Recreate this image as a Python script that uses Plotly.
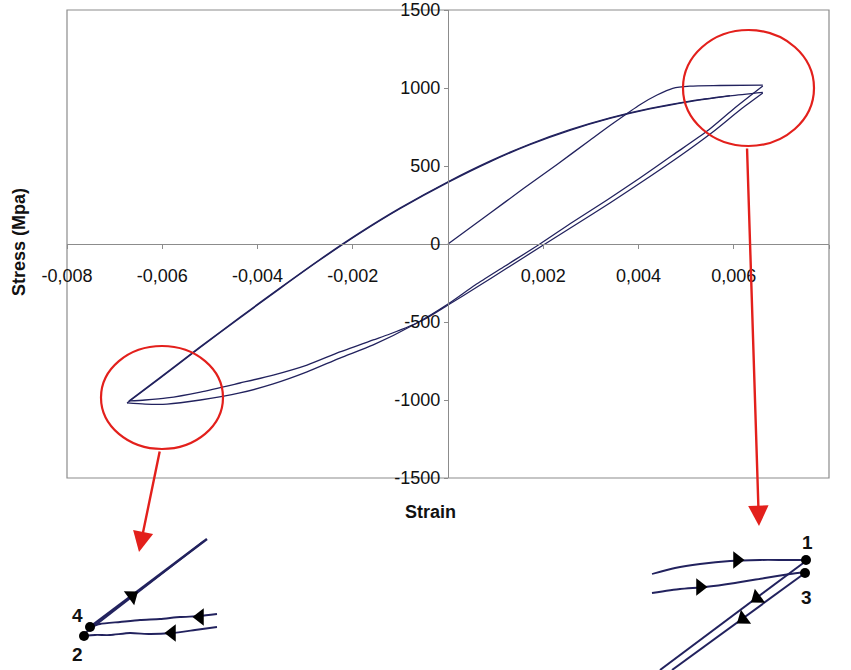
import math
import plotly.graph_objects as go

W, H = 851, 670

# ---------------- main hysteresis data (strain [-], stress [MPa]) ----------------
# 0 -> 1 : initial loading
strain_A = [0.0, 0.00088, 0.00157, 0.00229, 0.00298, 0.00346, 0.00403, 0.00439, 0.00472, 0.00508, 0.00571, 0.00661]
stress_A = [0, 197, 352, 510, 665, 772, 893, 955, 998, 1012, 1016, 1019]
# 1 -> 2 : unloading / reverse loading
strain_B = [0.00661, 0.00602, 0.00544, 0.00472, 0.00403, 0.00334, 0.00262, 0.00193, 0.00120, 0.00057, 0.0,
            -0.00069, -0.00157, -0.00227, -0.00296, -0.00367, -0.00437, -0.00520, -0.00590, -0.00636, -0.00674]
stress_B = [1013, 872, 724, 570, 423, 282, 141, 0, -141, -263, -385,
            -513, -647, -731, -820, -897, -955, -1000, -1026, -1026, -1019]
# 2 -> 3 : reloading
strain_C = [-0.00674, -0.00604, -0.00521, -0.00437, -0.00353, -0.00269, -0.00185, -0.00101, 0.0,
            0.00088, 0.00172, 0.00256, 0.00340, 0.00424, 0.00508, 0.00592, 0.00661]
stress_C = [-1019, -859, -665, -474, -286, -103, 69, 226, 395,
            527, 637, 729, 805, 866, 913, 949, 972]
# 3 -> 4 : second unloading
strain_D = [0.00661, 0.00613, 0.00556, 0.00487, 0.00413, 0.00340, 0.00267, 0.00197, 0.00124, 0.00061, 0.0,
            -0.00052, -0.00122, -0.00157, -0.00227, -0.00296, -0.00367, -0.00437, -0.00520, -0.00590, -0.00636, -0.00670]
stress_D = [968, 859, 718, 564, 410, 263, 122, -13, -154, -276, -391,
            -487, -577, -615, -692, -776, -840, -891, -949, -987, -1000, -1006]
# 4 -> : second reloading
strain_E = [-0.00670, -0.00604, -0.00521, -0.00437, -0.00353, -0.00269, -0.00185, -0.00101, 0.0,
            0.00088, 0.00172, 0.00256, 0.00340, 0.00424, 0.00508, 0.00592]
stress_E = [-1006, -855, -661, -470, -282, -99, 73, 230, 399,
            531, 641, 733, 809, 869, 916, 951]

x_tickvals = [-0.008, -0.006, -0.004, -0.002, 0.002, 0.004, 0.006, 0.008]
x_ticktext = ["-0,008", "-0,006", "-0,004", "-0,002", "0,002", "0,004", "0,006", "0,008"]
y_tickvals = [1500, 1000, 500, 0, -500, -1000, -1500]
y_ticktext = ["1500", "1000", "500", "0", "-500", "-1000", "-1500"]

# ---------------- sketch insets (drawn on an overlay axis in px units) ----------------
# lower-left detail (points 2 and 4)
inL_up4_x = [90, 207]
inL_up4_y = [627, 539]
inL_up2_x = [84, 204]
inL_up2_y = [634, 541]
inL_mid_x = [217, 200, 180, 160, 140, 120, 100, 90]
inL_mid_y = [614, 616, 617, 619, 620, 622, 624, 627]
inL_low_x = [217, 195, 172, 150, 130, 110, 95, 84]
inL_low_y = [627, 630, 633, 634, 633, 635, 635, 636]
# upper-right detail (points 1 and 3)
inR_top_x = [652, 675, 700, 730, 760, 785, 806]
inR_top_y = [574, 568, 564, 561, 560, 560, 560]
inR_sec_x = [652, 680, 705, 735, 765, 790, 805]
inR_sec_y = [593, 589, 587, 583, 578, 574, 572]
inR_dn1_x = [806, 660]
inR_dn1_y = [561, 670]
inR_dn3_x = [805, 672]
inR_dn3_y = [573, 670]

dots_x = [90, 84, 806, 805]
dots_y = [627, 636, 560, 573]
dot_labels = ["4", "2", "1", "3"]
label_x = [77, 77, 807, 806]
label_y = [615, 654, 542, 597]

arrow_x = [132, 200, 172, 737, 700, 757, 743]
arrow_y = [596, 617, 633, 560, 587, 598, 619]
arrow_dir = [(117, -88), (-1, 0), (-1, 0), (1, 0), (1, 0), (-146, 109), (-133, 97)]

LINE = "#22225e"
RED = "#e3201c"
AX = "#8c8c8c"

# plot box in pixels
PL, PR, PT, PB = 67, 829, 10, 478
xdom = [PL / W, PR / W]
ydom = [(H - PB) / H, (H - PT) / H]

fig = go.Figure()

for sx, sy in [(strain_A, stress_A), (strain_B, stress_B), (strain_C, stress_C),
               (strain_D, stress_D), (strain_E, stress_E)]:
    fig.add_trace(go.Scatter(x=sx, y=sy, mode="lines",
                             line=dict(color=LINE, width=1.3, shape="spline", smoothing=0.7),
                             xaxis="x", yaxis="y", hoverinfo="skip"))

for lx, ly, wd in [(inL_up4_x, inL_up4_y, 2.4), (inL_up2_x, inL_up2_y, 1.8),
                   (inL_mid_x, inL_mid_y, 1.8), (inL_low_x, inL_low_y, 1.8),
                   (inR_top_x, inR_top_y, 1.8), (inR_sec_x, inR_sec_y, 2.0),
                   (inR_dn1_x, inR_dn1_y, 2.0), (inR_dn3_x, inR_dn3_y, 2.0)]:
    fig.add_trace(go.Scatter(x=lx, y=ly, mode="lines",
                             line=dict(color=LINE, width=wd, shape="spline", smoothing=0.6),
                             xaxis="x2", yaxis="y2", hoverinfo="skip"))

angles = [math.degrees(math.atan2(dx, -dy)) for dx, dy in arrow_dir]
fig.add_trace(go.Scatter(x=arrow_x, y=arrow_y, mode="markers",
                         marker=dict(symbol="triangle-up", size=15, color="#000000", angle=angles,
                                     line=dict(width=0)),
                         xaxis="x2", yaxis="y2", hoverinfo="skip"))
fig.add_trace(go.Scatter(x=dots_x, y=dots_y, mode="markers",
                         marker=dict(symbol="circle", size=10, color="#000000"),
                         xaxis="x2", yaxis="y2", hoverinfo="skip"))

annotations = []
for t, lx, ly in zip(dot_labels, label_x, label_y):
    annotations.append(dict(x=lx, y=ly, xref="x2", yref="y2", text="<b>%s</b>" % t,
                            showarrow=False, font=dict(size=19, color="#111111")))
annotations.append(dict(x=430, y=512, xref="x2", yref="y2", text="<b>Strain</b>",
                        showarrow=False, font=dict(size=18, color="#111111")))
annotations.append(dict(x=19, y=242, xref="x2", yref="y2", text="<b>Stress (Mpa)</b>",
                        textangle=-90, showarrow=False, font=dict(size=18, color="#111111")))
# red pointer arrows
annotations.append(dict(x=759, y=526, xref="x2", yref="y2", ax=747, ay=147, axref="x2", ayref="y2",
                        text="", showarrow=True, arrowhead=2, arrowsize=1.7, arrowwidth=2.4,
                        arrowcolor=RED))
annotations.append(dict(x=139, y=552, xref="x2", yref="y2", ax=160, ay=450, axref="x2", ayref="y2",
                        text="", showarrow=True, arrowhead=2, arrowsize=1.7, arrowwidth=2.4,
                        arrowcolor=RED))

shapes = [
    dict(type="rect", xref="paper", yref="paper", x0=xdom[0], x1=xdom[1], y0=ydom[0], y1=ydom[1],
         line=dict(color=AX, width=1.2), layer="below"),
    dict(type="circle", xref="x2", yref="y2", x0=683, x1=814, y0=30, y1=146,
         line=dict(color=RED, width=2.2)),
    dict(type="circle", xref="x2", yref="y2", x0=101, x1=223, y0=346, y1=449,
         line=dict(color=RED, width=2.2)),
]

fig.update_layout(
    width=W, height=H,
    margin=dict(l=0, r=0, t=0, b=0, autoexpand=False),
    paper_bgcolor="white", plot_bgcolor="rgba(0,0,0,0)",
    showlegend=False,
    font=dict(family="Liberation Sans, Arial, sans-serif", size=18, color="#111111"),
    xaxis=dict(domain=xdom, range=[-0.008, 0.008], anchor="free",
               position=(ydom[0] + ydom[1]) / 2, automargin=False,
               showline=True, linecolor=AX, linewidth=1.2, showgrid=False, zeroline=False,
               ticks="outside", ticklen=4, tickcolor=AX, tickwidth=1,
               tickvals=x_tickvals, ticktext=x_ticktext, ticklabelstandoff=11,
               tickfont=dict(size=18, color="#111111"), fixedrange=True),
    yaxis=dict(domain=ydom, range=[-1500, 1500], anchor="free",
               position=(xdom[0] + xdom[1]) / 2, automargin=False,
               showline=True, linecolor=AX, linewidth=1.2, showgrid=False, zeroline=False,
               ticks="outside", ticklen=4, tickcolor=AX, tickwidth=1,
               tickvals=y_tickvals, ticktext=y_ticktext,
               tickfont=dict(size=18, color="#111111"), fixedrange=True),
    xaxis2=dict(domain=[0, 1], range=[0, W], anchor="y2", visible=False, fixedrange=True,
                automargin=False),
    yaxis2=dict(domain=[0, 1], range=[H, 0], anchor="x2", visible=False, fixedrange=True,
                automargin=False),
    annotations=annotations,
    shapes=shapes,
)

fig.write_html("out.html")
